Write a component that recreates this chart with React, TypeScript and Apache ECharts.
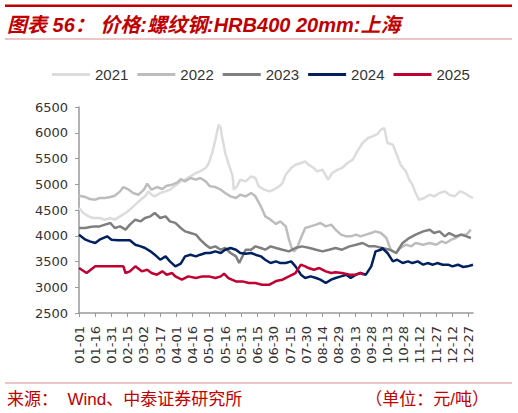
import React, { useEffect, useRef } from "react";
import * as echarts from "echarts";

// x = day of year (0 = 01-01), y = price (元/吨)
const YEARS = ["2021", "2022", "2023", "2024", "2025"];
const COLORS = ["#dcdcdc", "#bdbdbd", "#7f7f7f", "#002060", "#c00032"];

const s2021: [number, number][] = [
  [0, 4538], [4, 4441], [9, 4377], [13, 4344], [19, 4344], [24, 4312], [29, 4344], [33, 4312],
  [38, 4377], [43, 4441], [47, 4506], [52, 4603], [57, 4700], [61, 4765], [64, 4862], [67, 4797],
  [70, 4765], [75, 4830], [80, 4862], [84, 4895], [89, 4970], [94, 5056], [98, 5089], [103, 5153],
  [108, 5218], [112, 5250], [117, 5315], [120, 5412], [123, 5607], [126, 5865], [129, 6157],
  [131, 6092], [132, 5930], [134, 5736], [135, 5607], [138, 5412], [142, 5153], [143, 4895],
  [146, 4959], [149, 5089], [154, 5056], [159, 5153], [163, 5121], [166, 4959], [171, 4895],
  [176, 4862], [180, 4895], [185, 4960], [188, 5024], [191, 5186], [196, 5315], [200, 5380],
  [205, 5412], [209, 5445], [212, 5380], [217, 5315], [220, 5250], [225, 5283], [230, 5089],
  [234, 5218], [239, 5283], [243, 5315], [248, 5412], [253, 5477], [257, 5639], [262, 5801],
  [267, 5898], [271, 5930], [276, 5980], [279, 6060], [282, 6092], [285, 5801], [290, 5768],
  [293, 5607], [297, 5380], [302, 5250], [305, 5089], [308, 4992], [311, 4830], [314, 4700],
  [319, 4733], [324, 4797], [328, 4765], [333, 4830], [338, 4862], [342, 4797], [347, 4765],
  [352, 4862], [356, 4830], [361, 4765], [364, 4733],
];

const s2022: [number, number][] = [
  [0, 4778], [6, 4752], [10, 4713], [15, 4700], [19, 4733], [24, 4733], [29, 4752], [33, 4778],
  [38, 4862], [41, 4946], [46, 4895], [50, 4830], [55, 4797], [60, 4895], [63, 5011], [67, 4895],
  [72, 4946], [77, 4907], [81, 4972], [86, 4992], [91, 5037], [94, 5102], [98, 5056], [103, 5121],
  [108, 5089], [112, 5121], [117, 5056], [121, 4959], [126, 4946], [131, 4895], [135, 4830],
  [140, 4765], [145, 4733], [149, 4797], [154, 4765], [159, 4830], [163, 4765], [168, 4571],
  [172, 4377], [177, 4312], [182, 4230], [186, 4280], [191, 4183], [194, 3924], [197, 3729],
  [199, 3697], [202, 3794], [205, 3956], [209, 4150], [214, 4183], [219, 4215], [223, 4247],
  [228, 4183], [233, 4215], [237, 4118], [242, 4021], [247, 3988], [251, 3988], [256, 4021],
  [260, 3988], [265, 4021], [270, 4053], [274, 4085], [279, 4053], [284, 3956], [288, 3729],
  [293, 3665], [297, 3762], [302, 3826], [307, 3794], [311, 3859], [318, 3826], [324, 3859],
  [330, 3826], [335, 3891], [339, 3859], [344, 3924], [348, 3956], [353, 4021], [358, 4021],
  [362, 4118],
];

const s2023: [number, number][] = [
  [0, 4150], [6, 4150], [10, 4169], [15, 4182], [19, 4182], [24, 4215], [29, 4247], [33, 4150],
  [38, 4182], [43, 4118], [47, 4215], [52, 4312], [57, 4280], [61, 4344], [66, 4377], [70, 4441],
  [75, 4344], [80, 4377], [84, 4280], [89, 4250], [94, 4150], [98, 4085], [103, 4053], [108, 4021],
  [112, 3924], [117, 3826], [121, 3762], [126, 3794], [131, 3729], [135, 3762], [140, 3665],
  [145, 3600], [148, 3470], [151, 3600], [154, 3729], [159, 3729], [163, 3794], [168, 3762],
  [172, 3729], [177, 3794], [182, 3762], [188, 3729], [194, 3697], [200, 3762], [206, 3794],
  [213, 3762], [219, 3729], [225, 3697], [231, 3729], [237, 3762], [243, 3729], [250, 3794],
  [256, 3826], [262, 3859], [268, 3794], [274, 3794], [280, 3762], [287, 3729], [293, 3665],
  [299, 3859], [305, 3956], [311, 4021], [318, 4085], [324, 4118], [328, 4053], [333, 4085],
  [338, 3988], [342, 4053], [348, 3988], [353, 4021], [358, 3988], [362, 3956],
];

const s2024: [number, number][] = [
  [0, 4021], [6, 3924], [10, 3891], [15, 3859], [19, 3924], [26, 3988], [30, 3924], [36, 3911],
  [47, 3911], [52, 3826], [57, 3794], [61, 3762], [66, 3697], [70, 3632], [75, 3535], [80, 3600],
  [84, 3503], [89, 3406], [94, 3460], [98, 3600], [103, 3632], [108, 3600], [112, 3632], [117, 3665],
  [121, 3665], [126, 3697], [131, 3665], [135, 3729], [140, 3762], [145, 3729], [149, 3665],
  [154, 3652], [159, 3665], [163, 3632], [168, 3600], [172, 3535], [177, 3470], [182, 3503],
  [186, 3470], [191, 3470], [196, 3503], [200, 3406], [205, 3244], [209, 3179], [214, 3211],
  [219, 3179], [223, 3147], [228, 3082], [233, 3147], [237, 3179], [242, 3211], [247, 3244],
  [251, 3179], [256, 3244], [260, 3276], [265, 3244], [270, 3406], [274, 3697], [279, 3729],
  [280, 3762], [285, 3665], [290, 3503], [294, 3535], [299, 3470], [304, 3503], [308, 3470],
  [313, 3503], [318, 3438], [322, 3470], [327, 3438], [331, 3470], [336, 3438], [341, 3438],
  [345, 3406], [350, 3438], [355, 3393], [359, 3406], [364, 3438],
];

const s2025: [number, number][] = [
  [0, 3373], [7, 3276], [15, 3406], [41, 3406], [43, 3276], [47, 3309], [52, 3406], [58, 3309],
  [63, 3341], [67, 3276], [72, 3244], [77, 3309], [81, 3244], [86, 3276], [89, 3211], [95, 3147],
  [101, 3211], [108, 3179], [114, 3211], [120, 3211], [126, 3179], [131, 3211], [134, 3263],
  [138, 3179], [145, 3114], [151, 3114], [157, 3082], [163, 3082], [169, 3050], [176, 3050],
  [182, 3120], [188, 3147], [194, 3211], [200, 3276], [205, 3438], [209, 3406], [212, 3373],
  [217, 3341], [222, 3373], [228, 3309], [233, 3276], [237, 3290], [243, 3276], [250, 3244],
  [256, 3244], [260, 3276], [263, 3244],
];

const SERIES = [s2021, s2022, s2023, s2024, s2025];

const Y_MIN = 2500;
const Y_MAX = 6500;
const Y_STEP = 500;
const X_STEP = 15; // tick every 15 days: 01-01, 01-16, 01-31 ...

const TITLE = "图表 56： 价格:螺纹钢:HRB400 20mm:上海";
const SOURCE = "来源：  Wind、中泰证券研究所";
const UNIT = "（单位：元/吨）";

function dayLabel(d: number): string {
  const t = new Date(Date.UTC(2023, 0, 1) + Math.round(d) * 86400000);
  const m = String(t.getUTCMonth() + 1).padStart(2, "0");
  const dd = String(t.getUTCDate()).padStart(2, "0");
  return `${m}-${dd}`;
}

const FONT = "'Liberation Sans', Arial, 'Noto Sans CJK SC', sans-serif";
const WIDE = "'DejaVu Sans', 'Liberation Sans', sans-serif";
const RED = "#c00000";

export default function App() {
  const ref = useRef<HTMLDivElement>(null);
  useEffect(() => {
    document.body.style.margin = "0";
    if (!ref.current) return;
    const chart = echarts.init(ref.current, undefined, { renderer: "svg" });
    chart.setOption({
      animation: false,
      backgroundColor: "#ffffff",
      textStyle: { fontFamily: FONT },
      legend: {
        data: YEARS.map((y) => ({ name: y, icon: "rect" })),
        left: 47,
        top: 62,
        itemWidth: 38,
        itemHeight: 3,
        itemGap: 9,
        textStyle: { fontSize: 15, color: "#333333", fontFamily: FONT },
      },
      grid: { left: 79, right: 45, top: 107, bottom: 100, containLabel: false },
      xAxis: {
        type: "value",
        min: 0,
        max: 364,
        interval: X_STEP,
        axisLine: { show: true, lineStyle: { color: "#9a9a9a", width: 1.5 } },
        axisTick: { show: true, length: 4, lineStyle: { color: "#9a9a9a" } },
        splitLine: { show: false },
        axisLabel: {
          rotate: 90,
          fontSize: 13,
          fontFamily: WIDE,
          color: "#333333",
          margin: 13,
          showMaxLabel: false,
          formatter: (v: number) => dayLabel(v),
        },
      },
      yAxis: {
        type: "value",
        min: Y_MIN,
        max: Y_MAX,
        interval: Y_STEP,
        axisLine: { show: true, lineStyle: { color: "#9a9a9a", width: 1.5 } },
        axisTick: { show: true, length: 4, lineStyle: { color: "#9a9a9a" } },
        splitLine: { show: false },
        axisLabel: {
          fontSize: 13,
          fontFamily: WIDE,
          color: "#333333",
          margin: 11,
          formatter: (v: number) => String(v),
        },
      },
      series: YEARS.map((y, i) => ({
        name: y,
        type: "line",
        data: SERIES[i],
        symbol: "none",
        smooth: false,
        itemStyle: { color: COLORS[i] },
        lineStyle: { color: COLORS[i], width: 2.5 },
      })),
      graphic: [
        { type: "rect", shape: { x: 5, y: 4.5, width: 507, height: 2.5 }, style: { fill: RED } },
        {
          type: "text",
          x: 7,
          y: 24.5,
          style: {
            text: TITLE,
            fill: RED,
            fontSize: 20,
            fontWeight: "bold",
            fontStyle: "italic",
            fontFamily: FONT,
            verticalAlign: "middle",
          },
        },
        { type: "rect", shape: { x: 5, y: 38.5, width: 507, height: 1 }, style: { fill: "#d98c8c" } },
        { type: "rect", shape: { x: 5, y: 382.5, width: 507, height: 1 }, style: { fill: "#d98c8c" } },
        {
          type: "text",
          x: 7,
          y: 399,
          style: { text: SOURCE, fill: RED, fontSize: 17, fontFamily: FONT, verticalAlign: "middle" },
        },
        {
          type: "text",
          x: 489,
          y: 399,
          style: { text: UNIT, fill: RED, fontSize: 17, fontFamily: FONT, verticalAlign: "middle", align: "right" },
        },
      ],
    });
    return () => chart.dispose();
  }, []);
  return <div ref={ref} style={{ width: 518, height: 413 }} />;
}
